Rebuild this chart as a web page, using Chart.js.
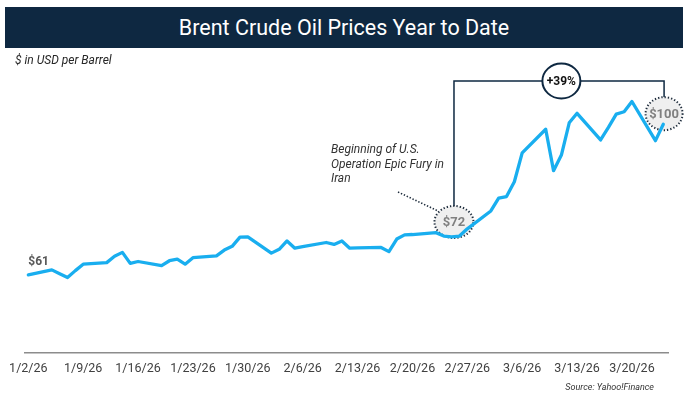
<!DOCTYPE html>
<html>
<head>
<meta charset="utf-8">
<script src="https://cdn.jsdelivr.net/npm/chart.js@4.4.1/dist/chart.umd.min.js"></script>
<style>
  html, body { margin:0; padding:0; background:#fff; }
  #wrap { position:relative; width:688px; height:405px; overflow:hidden; font-family: Roboto, "Open Sans", sans-serif; }
  #chart { position:absolute; left:0; top:0; }
  #titlebar { position:absolute; left:5px; top:7px; width:678px; height:41px; background:#0e2841;
    color:#fff; font-size:21.5px; line-height:41px; text-align:center; }
  #sub { position:absolute; left:15px; top:53px; font-size:12px; font-style:italic; color:#262626; }
  #note { position:absolute; left:331px; top:142px; font-size:12px; line-height:14.5px; font-style:italic; color:#333; }
  #src { position:absolute; right:34px; top:382px; font-size:9px; font-style:italic; color:#333; }
</style>
</head>
<body>
<div id="wrap">
  <canvas id="chart" width="688" height="405"></canvas>
  <div id="titlebar">Brent Crude Oil Prices Year to Date</div>
  <div id="sub">$ in USD per Barrel</div>
  <div id="note">Beginning of U.S.<br>Operation Epic Fury in<br>Iran</div>
  <div id="src">Source: Yahoo!Finance</div>
</div>
<script>
// Days since 1/2/26 (calendar) for each trading day
const days = [0,3,4,5,6,7,10,11,12,13,14,17,18,19,20,21,24,25,26,27,28,31,32,33,34,35,38,39,40,41,42,45,46,47,48,49,52,53,54,55,56,59,60,61,62,63,66,67,68,69,70,73,74,75,76,77,80,81];
const prices = [60.5,61.8,60.8,59.8,61.6,63.3,63.7,65.4,66.4,63.5,64.0,62.9,64.2,64.6,63.3,65.0,65.5,67.0,68.0,70.4,70.5,66.2,67.2,69.4,67.5,67.9,69.0,68.5,69.4,67.5,67.6,67.7,66.6,69.9,71.0,71.1,71.6,70.7,70.5,70.7,72.6,77.3,80.7,81.1,85.0,92.6,98.8,87.9,92.0,100.5,103.0,96.0,99.3,102.8,103.4,106.1,95.8,100.1];
const tickDays = [0,7,14,21,28,35,42,49,56,63,70,77];
const tickLabels = ["1/2/26","1/9/26","1/16/26","1/23/26","1/30/26","2/6/26","2/13/26","2/20/26","2/27/26","3/6/26","3/13/26","3/20/26"];
const startLabel = "$61";
const fromLabel = "$72";
const toLabel = "$100";
const changeLabel = "+39%";

const points = days.map((d, i) => ({ x: d, y: prices[i] }));

const NAVY = '#0e2841';

function ellipse(ctx, cx, cy, rx, ry) {
  ctx.beginPath();
  ctx.ellipse(cx, cy, rx, ry, 0, 0, Math.PI * 2);
}

const annotations = {
  id: 'annotations',
  beforeDatasetsDraw(chart) {
    const { ctx, scales: { x, y } } = chart;
    ctx.save();
    const c72 = { x: x.getPixelForValue(54.3), y: y.getPixelForValue(74.4) };
    const c100 = { x: x.getPixelForValue(81.1), y: y.getPixelForValue(102.9) };
    const bracketY = y.getPixelForValue(111.5);
    const cPct = { x: x.getPixelForValue(68), y: bracketY };

    ctx.strokeStyle = NAVY;
    ctx.lineWidth = 1.5;
    ctx.setLineDash([]);
    ctx.beginPath();
    ctx.moveTo(c72.x, c72.y - 16);
    ctx.lineTo(c72.x, bracketY);
    ctx.lineTo(c100.x, bracketY);
    ctx.lineTo(c100.x, c100.y - 16.5);
    ctx.stroke();

    ctx.strokeStyle = '#1f2d3d';
    ctx.lineWidth = 1.6;
    ctx.setLineDash([1.4, 1.8]);
    ctx.beginPath();
    ctx.moveTo(398, 192);
    ctx.lineTo(c72.x - 16, c72.y - 11);
    ctx.stroke();

    [[c72, 19.5, 16, fromLabel], [c100, 18.5, 16.5, toLabel]].forEach(([c, rx, ry, txt]) => {
      ellipse(ctx, c.x, c.y, rx, ry);
      ctx.fillStyle = 'rgba(238,238,238,0.92)';
      ctx.fill();
      ctx.strokeStyle = '#1f2d3d';
      ctx.lineWidth = 2;
      ctx.setLineDash([1.3, 2]);
      ctx.stroke();
      ctx.setLineDash([]);
      ctx.fillStyle = '#808080';
      ctx.font = 'bold 13px Roboto, sans-serif';
      ctx.textAlign = 'center';
      ctx.textBaseline = 'middle';
      ctx.fillText(txt, c.x, c.y + 1);
    });

    ctx.setLineDash([]);
    ellipse(ctx, cPct.x, cPct.y, 19, 17.5);
    ctx.fillStyle = '#fff';
    ctx.fill();
    ctx.strokeStyle = NAVY;
    ctx.lineWidth = 2;
    ctx.stroke();
    ctx.fillStyle = '#111';
    ctx.font = 'bold 12px Roboto, sans-serif';
    ctx.textAlign = 'center';
    ctx.textBaseline = 'middle';
    ctx.fillText(changeLabel, cPct.x, cPct.y + 1);

    const p0 = { x: x.getPixelForValue(days[0]), y: y.getPixelForValue(prices[0]) };
    ctx.fillStyle = '#595959';
    ctx.font = 'bold 12px Roboto, sans-serif';
    ctx.textAlign = 'left';
    ctx.textBaseline = 'middle';
    ctx.fillText(startLabel, p0.x, p0.y - 13);
    ctx.restore();
  }
};

new Chart(document.getElementById('chart'), {
  type: 'line',
  data: {
    datasets: [{
      data: points,
      borderColor: '#19aeef',
      borderWidth: 3.3,
      pointRadius: 0,
      tension: 0,
      borderJoinStyle: 'round',
      borderCapStyle: 'round',
      fill: false
    }]
  },
  options: {
    responsive: false,
    animation: false,
    devicePixelRatio: 1,
    layout: { padding: { left: 22, right: 20, top: 48.7, bottom: 0 } },
    plugins: { legend: { display: false }, tooltip: { enabled: false }, title: { display: false } },
    scales: {
      x: {
        type: 'linear',
        min: -0.4,
        max: 81.6,
        afterBuildTicks(scale) { scale.ticks = tickDays.map(v => ({ value: v })); },
        afterFit(scale) { scale.height = 52.3; },
        grid: { display: false, drawTicks: false },
        border: { display: true, color: '#8c8c8c', width: 1.5 },
        ticks: {
          autoSkip: false, maxRotation: 0, minRotation: 0, padding: 9,
          color: '#404040',
          font: { family: 'Roboto, sans-serif', size: 12.5 },
          callback(v) { const i = tickDays.indexOf(v); return i >= 0 ? tickLabels[i] : ''; }
        }
      },
      y: {
        type: 'linear',
        display: false,
        min: 40,
        max: 120
      }
    }
  },
  plugins: [annotations]
});
</script>
</body>
</html>
